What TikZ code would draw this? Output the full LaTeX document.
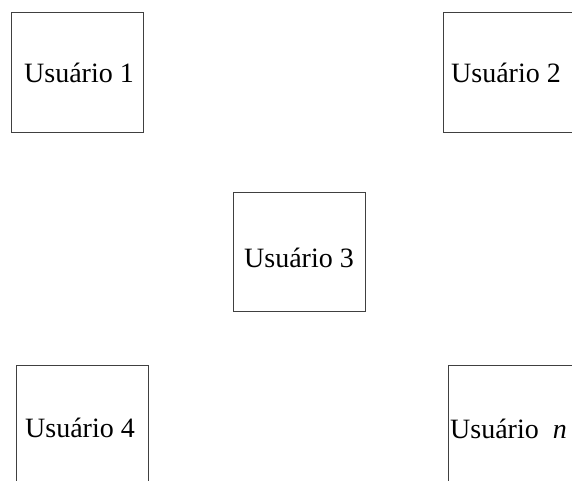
\documentclass[tikz,border=0pt]{standalone}
\usepackage{fontspec}
\setmainfont{Liberation Serif}
\usepackage{tikz}
\usetikzlibrary{positioning}

\tikzset{
  userbox/.style={draw=black!75,line width=0.9pt,minimum width=132pt,minimum height=120pt,inner sep=0pt},
  userlabel/.style={anchor=base,inner sep=0pt,font=\fontsize{28}{34}\selectfont},
}

\begin{document}
\begin{tikzpicture}[x=1pt,y=-1pt]
  \useasboundingbox (0,0) rectangle (572,481);
  \clip (0,0) rectangle (572,481);
  % boxes
  \node[userbox] (box1) at (77,72) {};
  \node[userbox] (box2) at (509,72) {};
  \node[userbox,minimum height=119pt] (box3) at (299,251.5) {};
  \node[userbox] (box4) at (82,425) {};
  \node[userbox] (boxn) at (514,425) {};
  % names
  \node[userlabel] (lbl1) at (79,83) {Usuário 1};
  \node[userlabel] (lbl2) at (506,83) {Usuário 2};
  \node[userlabel] (lbl3) at (299,267) {Usuário 3};
  \node[userlabel] (lbl4) at (80,437) {Usuário 4};
  \node[userlabel] (lbln) at (508.5,438) {Usuário~~\textit{n}};
\end{tikzpicture}
\end{document}
